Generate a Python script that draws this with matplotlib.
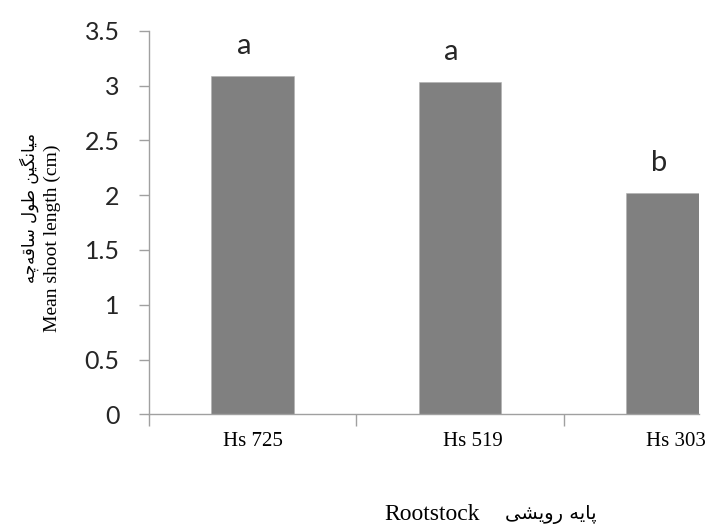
"""Mean shoot length per rootstock, bar chart with significance letters."""
import matplotlib
matplotlib.use("Agg")
import matplotlib.pyplot as plt
import matplotlib.transforms as mtransforms

ROOTSTOCKS = ["Hs 725", "Hs 519", "Hs 303"]
SHOOT_LENGTH = [3.09, 3.03, 2.02]
LETTERS = ["a", "a", "b"]
Y_TICKS = [0, 0.5, 1, 1.5, 2, 2.5, 3, 3.5]
Y_TICK_LABELS = ["0", "0.5", "1", "1.5", "2", "2.5", "3", "3.5"]
YLABEL_FA = "میانگین طول ساقه\u200cچه"
YLABEL_EN = "Mean shoot length (cm)"
XLABEL_FA = "پایه رویشی"
XLABEL_EN = "Rootstock"

# minimal Persian shaping (iso, fin, ini, med), matplotlib has no shaper/bidi
FORMS = {
    "ا": ("\uFE8D", "\uFE8E", None, None),
    "ر": ("\uFEAD", "\uFEAE", None, None),
    "و": ("\uFEED", "\uFEEE", None, None),
    "م": ("\uFEE1", "\uFEE2", "\uFEE3", "\uFEE4"),
    "ن": ("\uFEE5", "\uFEE6", "\uFEE7", "\uFEE8"),
    "ط": ("\uFEC1", "\uFEC2", "\uFEC3", "\uFEC4"),
    "ل": ("\uFEDD", "\uFEDE", "\uFEDF", "\uFEE0"),
    "س": ("\uFEB1", "\uFEB2", "\uFEB3", "\uFEB4"),
    "ش": ("\uFEB5", "\uFEB6", "\uFEB7", "\uFEB8"),
    "ق": ("\uFED5", "\uFED6", "\uFED7", "\uFED8"),
    "ه": ("\uFEE9", "\uFEEA", "\uFEEB", "\uFEEC"),
    "پ": ("\uFB56", "\uFB57", "\uFB58", "\uFB59"),
    "چ": ("\uFB7A", "\uFB7B", "\uFB7C", "\uFB7D"),
    "گ": ("\uFB92", "\uFB93", "\uFB94", "\uFB95"),
    "ی": ("\uFBFC", "\uFBFD", "\uFBFE", "\uFBFF"),
}


def shape_fa(text):
    out = []
    for i, ch in enumerate(text):
        f = FORMS.get(ch)
        if f is None:
            if ch != "\u200c":
                out.append(ch)
            continue
        prev = text[i - 1] if i > 0 else ""
        nxt = text[i + 1] if i + 1 < len(text) else ""
        jp = prev in FORMS and FORMS[prev][2] is not None
        jn = f[2] is not None and nxt in FORMS
        out.append(f[3] if jp and jn else f[1] if jp else f[2] if jn else f[0])
    return "".join(out)[::-1]


AXIS_GREY = "#a0a0a0"
BAR_GREY = "#808080"
TEXT_DARK = "#262626"
SERIF = ["Liberation Serif", "DejaVu Serif"]

fig = plt.figure(figsize=(7.07, 5.32), dpi=100)
ax = fig.add_axes([149 / 707, 1 - 414.3 / 532, 550 / 707, 383.6 / 532])

x = list(range(len(ROOTSTOCKS)))
ax.bar(x, SHOOT_LENGTH, width=0.4, color=BAR_GREY, edgecolor="#b0b0b0",
       linewidth=0.4, zorder=2)

for xi, v, lt in zip(x, SHOOT_LENGTH, LETTERS):
    ax.text(xi - 0.04, v + 0.2, lt, ha="center", va="baseline",
            fontsize=21, family="Lato", color=TEXT_DARK)

ax.set_xlim(-0.5, 2.153)
ax.set_ylim(0, 3.5)
ax.set_yticks(Y_TICKS)
ax.set_yticklabels(Y_TICK_LABELS, family="Lato", fontsize=18, color=TEXT_DARK)
ax.set_xticks([i - 0.5 for i in x])
ax.set_xticklabels([])

for s in ("top", "right"):
    ax.spines[s].set_visible(False)
for s in ("left", "bottom"):
    ax.spines[s].set_color(AXIS_GREY)
    ax.spines[s].set_linewidth(1.0)
ax.tick_params(axis="y", direction="out", length=7.2, width=1.0,
               color=AXIS_GREY, pad=14)
ax.tick_params(axis="x", direction="out", length=8.6, width=1.0,
               color=AXIS_GREY)

# category labels sit a bit right of the bar centres, as in the source
label_shift = [0.0, 0.06, 0.04]
trans = mtransforms.blended_transform_factory(ax.transData, ax.transAxes)
for xi, name, dx in zip(x, ROOTSTOCKS, label_shift):
    ax.text(xi + dx, -0.072, name, transform=trans, ha="center", va="center",
            fontsize=15, family=SERIF, color="black", clip_on=False)

fig.text(29 / 707, 1 - 208 / 532, shape_fa(YLABEL_FA), rotation=90,
         ha="center", va="center", fontsize=12, family="DejaVu Sans")
fig.text(52 / 707, 1 - 238 / 532, YLABEL_EN, rotation=90,
         ha="center", va="center", fontsize=14, family=SERIF)
fig.text(432 / 707, 1 - 514 / 532, XLABEL_EN, ha="center", va="center",
         fontsize=17, family=SERIF)
fig.text(551 / 707, 1 - 514 / 532, shape_fa(XLABEL_FA), ha="center",
         va="center", fontsize=14, family="DejaVu Sans")

fig.savefig("out.png", dpi=100)
